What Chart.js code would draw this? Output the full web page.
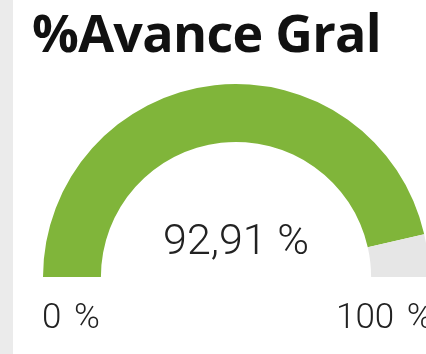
<!DOCTYPE html>
<html>
<head>
<meta charset="utf-8">
<script src="https://cdn.jsdelivr.net/npm/chart.js@4/dist/chart.umd.min.js"></script>
<style>
  html, body { margin: 0; padding: 0; width: 426px; height: 354px; overflow: hidden; background: #fff; }
  #strip { position: absolute; left: 0; top: 0; width: 13px; height: 354px; background: #ebebeb; }
  #title { position: absolute; left: 32px; top: -4px; font: 700 52px "Open Sans", sans-serif; letter-spacing: -0.7px; color: #111; white-space: nowrap; }
  .lbl { position: absolute; top: 296px; font: 300 35px Roboto, sans-serif; word-spacing: 4px; color: #222; white-space: nowrap; }
  #chartBox { position: absolute; left: 0; top: 0; width: 440px; height: 354px; }
</style>
</head>
<body>
<div id="strip"></div>
<div id="title">%Avance Gral</div>
<div id="chartBox"><canvas id="gauge"></canvas></div>
<div class="lbl" id="minLbl" style="left:42px"></div>
<div class="lbl" id="maxLbl" style="left:336px"></div>
<script>
var categories = ['Avance', 'Restante'];
var avance = 92.91;
var minVal = 0;
var maxVal = 100;
var values = [avance, maxVal - avance];
var colors = ['#80b53a', '#e6e6e6'];

function pct(v, dec) {
	return v.toFixed(dec).replace('.', ',') + ' %';
}

document.getElementById('minLbl').textContent = pct(minVal, 0);
document.getElementById('maxLbl').textContent = pct(maxVal, 0);

// value written in the middle of the gauge
var centerText = {
	id: 'centerText',
	afterDraw: function(chart) {
		var arc = chart.getDatasetMeta(0).data[0];
		var ctx = chart.ctx;
		ctx.save();
		ctx.font = '300 43px Roboto, sans-serif';
		ctx.fillStyle = '#222';
		ctx.textAlign = 'center';
		ctx.textBaseline = 'alphabetic';
		ctx.fillText(pct(chart.data.datasets[0].data[0], 2), arc.x, arc.y - 23);
		ctx.restore();
	}
};

var ctx = document.getElementById('gauge').getContext('2d');
var chart = new Chart(ctx, {
	type: 'doughnut',
	data: {
		labels: categories,
		datasets: [{
			data: values,
			backgroundColor: colors,
			borderWidth: 0
		}]
	},
	options: {
		responsive: true,
		maintainAspectRatio: false,
		animation: false,
		rotation: -90,
		circumference: 180,
		cutout: '70%',
		layout: { padding: { left: 43, right: 11, top: 84, bottom: 77 } },
		plugins: {
			legend: { display: false },
			tooltip: { enabled: false }
		}
	},
	plugins: [centerText]
});
</script>
</body>
</html>
